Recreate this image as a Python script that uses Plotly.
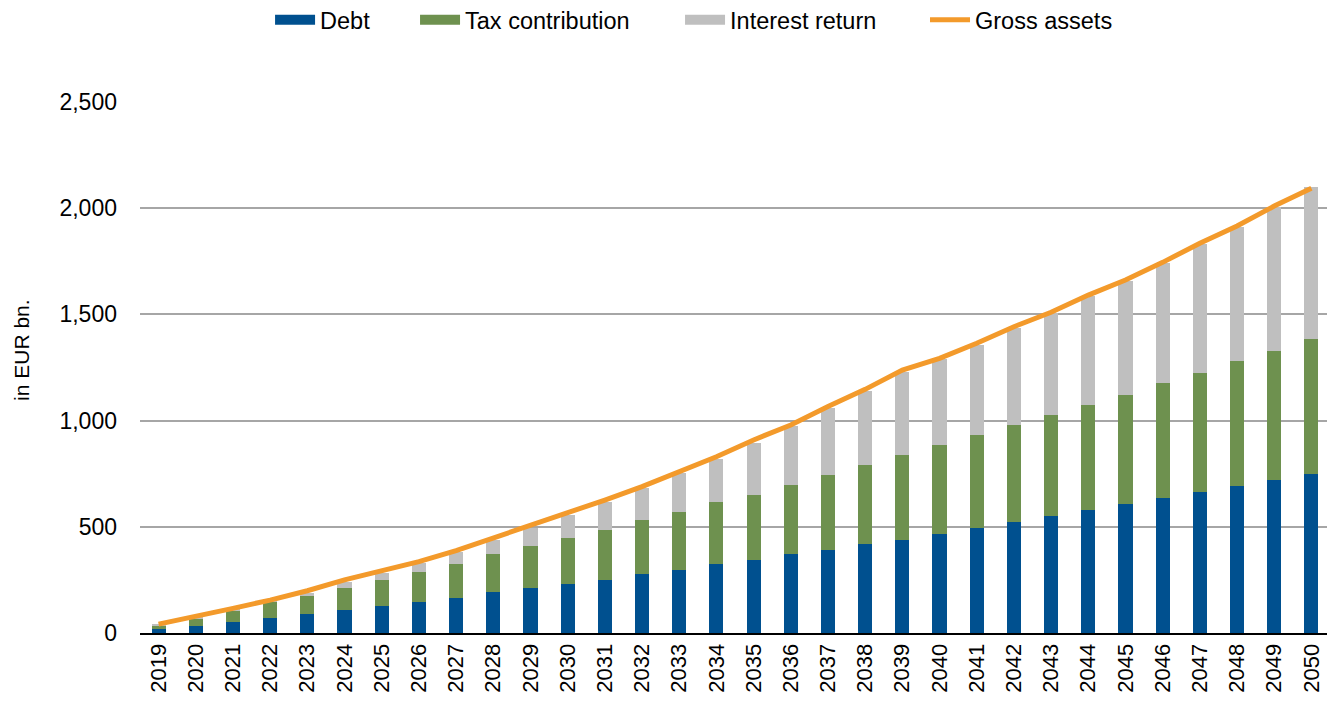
import plotly.graph_objects as go

years = [str(y) for y in range(2019, 2051)]
debt = [17, 34, 53, 72, 91, 110, 129, 147, 166, 194, 213, 232, 251, 279, 298, 326,
        345, 373, 392, 420, 439, 466, 494, 523, 551, 579, 607, 636, 664, 692, 720, 749]
tax_contribution = [17, 35, 55, 75, 85, 103, 122, 142, 160, 179, 198, 215, 234, 253, 272, 289,
                    306, 325, 353, 372, 400, 419, 438, 456, 475, 494, 513, 541, 560, 589, 608, 635]
interest_return = [4, 3, 4, 5, 14, 29, 33, 42, 57, 65, 82, 109, 133, 149, 182, 204,
                   245, 277, 313, 349, 391, 404, 424, 456, 479, 515, 537, 564, 608, 632, 676, 714]
gross_assets = [42, 77, 116, 155, 199, 250, 293, 336, 388, 446, 504, 563, 626, 689, 759, 830,
                909, 979, 1066, 1147, 1238, 1293, 1364, 1442, 1510, 1591, 1662, 1745, 1835, 1916, 2010, 2094]
y_ticks = [0, 500, 1000, 1500, 2000, 2500]

series = [
    ("Debt", debt, "#00508F"),
    ("Tax contribution", tax_contribution, "#6E914F"),
    ("Interest return", interest_return, "#BFBFBF"),
]
legend_ids = ["legend", "legend2", "legend3", "legend4"]
legend_x = [0.1963, 0.3049, 0.5034, 0.6869]

fig = go.Figure()
for name, vals, col in series:
    fig.add_trace(go.Bar(x=years, y=vals, name=name, showlegend=False,
                         marker=dict(color=col, line=dict(width=0))))
fig.add_trace(go.Scatter(x=years, y=gross_assets, name="Gross assets", mode="lines",
                         showlegend=False, line=dict(color="#F39A2B", width=5)))

# legend entries (wide rectangular swatches like the original)
for (name, vals, col), lid in zip(series, legend_ids):
    fig.add_trace(go.Scatter(x=[None], y=[None], name=name, mode="lines", legend=lid,
                             line=dict(color=col, width=12)))
fig.add_trace(go.Scatter(x=[None], y=[None], name="Gross assets", mode="lines", legend="legend4",
                         line=dict(color="#F39A2B", width=5)))

legend_common = dict(orientation="h", xanchor="left", xref="container",
                     y=0.983, yanchor="middle", yref="container",
                     font=dict(size=23.5), itemwidth=40, bgcolor="rgba(0,0,0,0)")

fig.update_layout(
    barmode="stack",
    bargap=0.62,
    width=1335, height=706,
    margin=dict(l=132, r=13, t=94, b=81),
    paper_bgcolor="white", plot_bgcolor="white",
    font=dict(family="Liberation Sans, Arial, sans-serif", size=22, color="#000000"),
    xaxis=dict(type="category", tickangle=-90, showgrid=False, showline=True,
               linecolor="#000000", linewidth=2, ticks="", tickfont=dict(size=22),
               automargin=False),
    yaxis=dict(range=[0, 2500], tickvals=y_ticks, tickformat=",d", showgrid=True,
               gridcolor="#A6A6A6", gridwidth=2, zeroline=False, showline=False,
               ticks="", ticklabelstandoff=22, tickfont=dict(size=23), automargin=False),
    annotations=[dict(text="in EUR bn.", textangle=-90, xref="paper", yref="paper",
                      x=-0.0992, y=0.533, xanchor="center", yanchor="middle",
                      showarrow=False, font=dict(size=21))],
)
for lid, lx in zip(legend_ids, legend_x):
    fig.update_layout({lid: dict(legend_common, x=lx)})

fig.write_html("out.html")
